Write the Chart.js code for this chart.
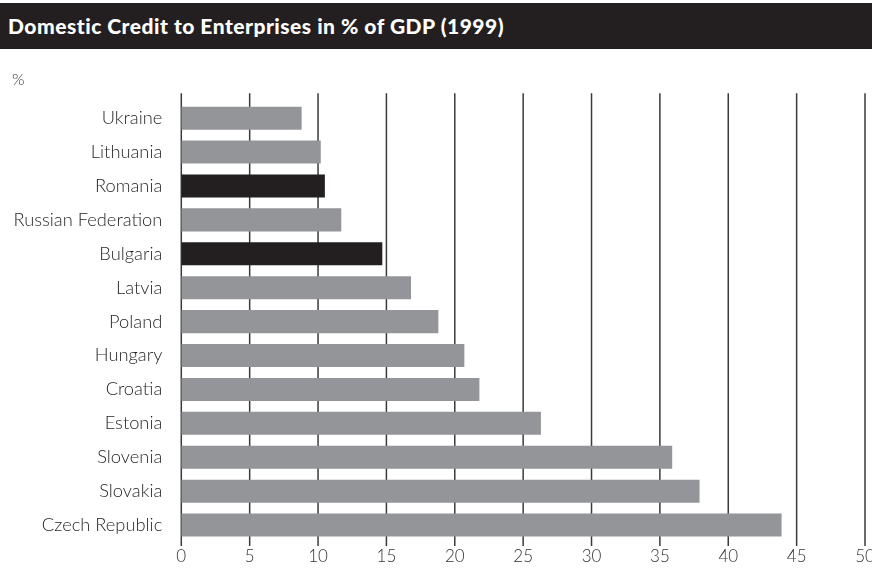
<!DOCTYPE html>
<html>
<head>
<meta charset="utf-8">
<script src="https://cdn.jsdelivr.net/npm/chart.js@4.4.0/dist/chart.umd.min.js"></script>
<style>
  html, body { margin: 0; padding: 0; background: #fff; overflow: hidden; width: 872px; height: 572px; }
  #bar { position: absolute; left: 0; top: 3px; width: 872px; height: 46px; background: #231f20;
         color: #fff; font-family: Lato, sans-serif; font-weight: 900; font-size: 21px;
         line-height: 46px; padding-left: 8px; box-sizing: border-box; letter-spacing: 0.5px; }
  #wrap { position: absolute; left: 0; top: 49px; width: 900px; height: 523px; }
</style>
</head>
<body>
<div id="bar">Domestic Credit to Enterprises in % of GDP (1999)</div>
<div id="wrap"><canvas id="chart"></canvas></div>
<script>
const countries = ['Ukraine', 'Lithuania', 'Romania', 'Russian Federation', 'Bulgaria', 'Latvia', 'Poland',
  'Hungary', 'Croatia', 'Estonia', 'Slovenia', 'Slovakia', 'Czech Republic'];
const credit = [8.8, 10.2, 10.5, 11.7, 14.7, 16.8, 18.8, 20.7, 21.8, 26.3, 35.9, 37.9, 43.9];
const highlighted = ['Romania', 'Bulgaria'];
const xTicks = [0, 5, 10, 15, 20, 25, 30, 35, 40, 45, 50];

const grey = '#939598';
const dark = '#231f20';

// vertical lines go a bit above and below the plot area
const gridLines = {
  id: 'gridLines',
  beforeDatasetsDraw(chart) {
    const { ctx, chartArea, scales } = chart;
    ctx.save();
    ctx.strokeStyle = '#3a3a3a';
    ctx.lineWidth = 1.5;
    xTicks.forEach(v => {
      const x = scales.x.getPixelForValue(v);
      ctx.beginPath();
      ctx.moveTo(x, chartArea.top - 8);
      ctx.lineTo(x, chartArea.bottom + 4);
      ctx.stroke();
    });
    ctx.restore();
  }
};

new Chart(document.getElementById('chart'), {
  type: 'bar',
  data: {
    labels: countries,
    datasets: [{
      data: credit,
      backgroundColor: countries.map(c => highlighted.includes(c) ? dark : grey),
      barPercentage: 0.68,
      categoryPercentage: 1
    }]
  },
  options: {
    indexAxis: 'y',
    responsive: true,
    maintainAspectRatio: false,
    animation: false,
    layout: { padding: { left: 12, right: 35, top: 0, bottom: 0 } },
    plugins: {
      legend: { display: false },
      tooltip: { enabled: false },
      title: {
        display: true, text: '%', align: 'start', color: '#333',
        font: { family: 'Lato', size: 16, weight: 300 },
        padding: { top: 21, bottom: 12 }
      }
    },
    scales: {
      x: {
        min: 0, max: 50,
        afterBuildTicks: s => { s.ticks = xTicks.map(v => ({ value: v })); },
        afterFit: s => { s.height = 27.7; },
        grid: { display: false, drawTicks: false },
        border: { display: false },
        ticks: { color: '#333', padding: 4, maxRotation: 0, autoSkip: false,
                 font: { family: 'Lato', size: 17, weight: 300 } }
      },
      y: {
        afterFit: s => { s.width = 169.3; },
        grid: { display: false, drawTicks: false },
        border: { display: false },
        ticks: { color: '#231f20', padding: 19, autoSkip: false,
                 font: { family: 'Lato', size: 18.3, weight: 300 } }
      }
    }
  },
  plugins: [gridLines]
});
</script>
</body>
</html>
